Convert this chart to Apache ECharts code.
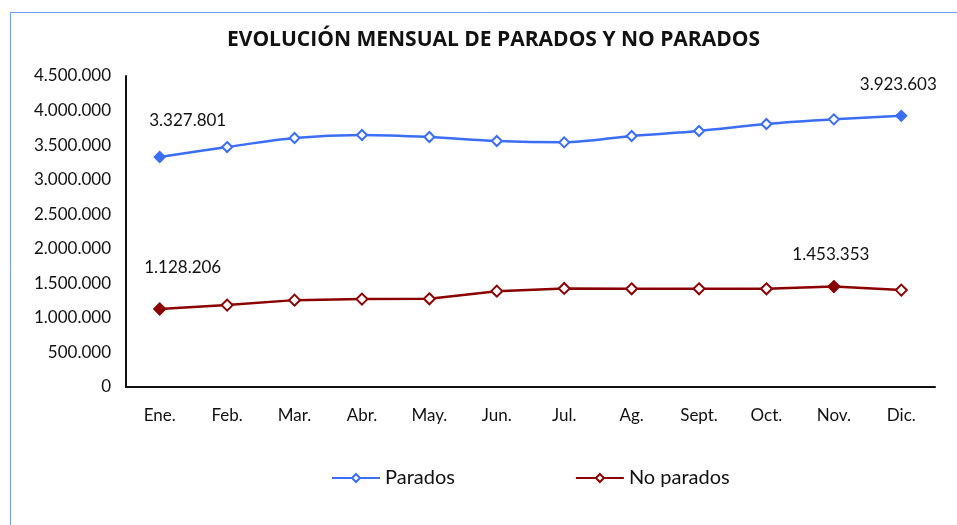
<!DOCTYPE html>
<html>
<head>
<meta charset="utf-8">
<script src="https://cdn.jsdelivr.net/npm/echarts@6/dist/echarts.min.js"></script>
<style>
html,body{margin:0;padding:0;background:#fff;}
#c{width:957px;height:525px;}
</style>
</head>
<body>
<div id="c"></div>
<script>
var titleText = 'EVOLUCIÓN MENSUAL DE PARADOS Y NO PARADOS';
var months = ['Ene.', 'Feb.', 'Mar.', 'Abr.', 'May.', 'Jun.', 'Jul.', 'Ag.', 'Sept.', 'Oct.', 'Nov.', 'Dic.'];
var parados = [3327801, 3472000, 3603000, 3646000, 3617000, 3559000, 3540000, 3632000, 3704000, 3805000, 3873000, 3923603];
var noParados = [1128206, 1185000, 1257000, 1272000, 1276000, 1387000, 1426000, 1421000, 1421000, 1421000, 1453353, 1402000];
var paradosLabelled = [0, 11];
var noParadosLabelled = [0, 10];

var BLUE = '#3b6ef5';
var RED = '#8b0000';
var FONT = 'Lato';

function fmt(v) {
  return String(Math.round(v)).replace(/\B(?=(\d{3})+(?!\d))/g, '.');
}

function buildData(values, labelled, color, offsets) {
  return values.map(function (v, i) {
    var idx = labelled.indexOf(i);
    if (idx < 0) return v;
    return {
      value: v,
      itemStyle: { color: color, borderColor: color },
      label: {
        show: true,
        position: 'top',
        distance: 0,
        offset: offsets[idx],
        formatter: function (p) { return fmt(p.value); },
        color: '#111',
        fontFamily: FONT,
        fontSize: 17
      }
    };
  });
}

var chart = echarts.init(document.getElementById('c'), null, { renderer: 'canvas' });
chart.setOption({
  animation: false,
  backgroundColor: '#fff',
  graphic: [{
    type: 'rect',
    left: 8, top: 10,
    shape: { width: 1200, height: 1200 },
    style: { fill: 'none', stroke: '#6f9cf0', lineWidth: 1 },
    silent: true,
    z: -10
  }],
  title: {
    text: titleText,
    left: 222,
    top: 25,
    textStyle: { fontFamily: 'Open Sans', fontWeight: 'bold', fontSize: 21, color: '#111' }
  },
  legend: {
    bottom: 32,
    left: 326,
    itemWidth: 48,
    itemHeight: 10,
    itemGap: 120,
    textStyle: { fontFamily: FONT, fontSize: 20, color: '#111' },
    data: ['Parados', 'No parados']
  },
  grid: { left: 126, right: 22, top: 76, bottom: 138, containLabel: false },
  xAxis: {
    type: 'category',
    data: months,
    boundaryGap: true,
    axisLine: { lineStyle: { color: '#111', width: 2 } },
    axisTick: { show: false },
    axisLabel: { fontFamily: FONT, fontSize: 17, color: '#111', margin: 20 }
  },
  yAxis: {
    type: 'value',
    min: 0,
    max: 4500000,
    interval: 500000,
    axisLine: { show: true, lineStyle: { color: '#111', width: 2 } },
    axisTick: { show: false },
    splitLine: { show: false },
    axisLabel: {
      fontFamily: FONT, fontSize: 17, color: '#111', margin: 15,
      formatter: function (v) { return fmt(v); }
    }
  },
  series: [
    {
      name: 'Parados',
      type: 'line',
      smooth: 0.3,
      symbol: 'diamond',
      symbolSize: 10,
      showAllSymbol: true,
      color: BLUE,
      lineStyle: { color: BLUE, width: 2.5 },
      itemStyle: { color: '#fff', borderColor: BLUE, borderWidth: 2 },
      data: buildData(parados, paradosLabelled, BLUE, [[28, -22], [-3, -17]])
    },
    {
      name: 'No parados',
      type: 'line',
      smooth: false,
      symbol: 'diamond',
      symbolSize: 11,
      showAllSymbol: true,
      color: RED,
      lineStyle: { color: RED, width: 2.5 },
      itemStyle: { color: '#fff', borderColor: RED, borderWidth: 2 },
      data: buildData(noParados, noParadosLabelled, RED, [[23, -27], [-3, -17]])
    }
  ]
});
</script>
</body>
</html>
